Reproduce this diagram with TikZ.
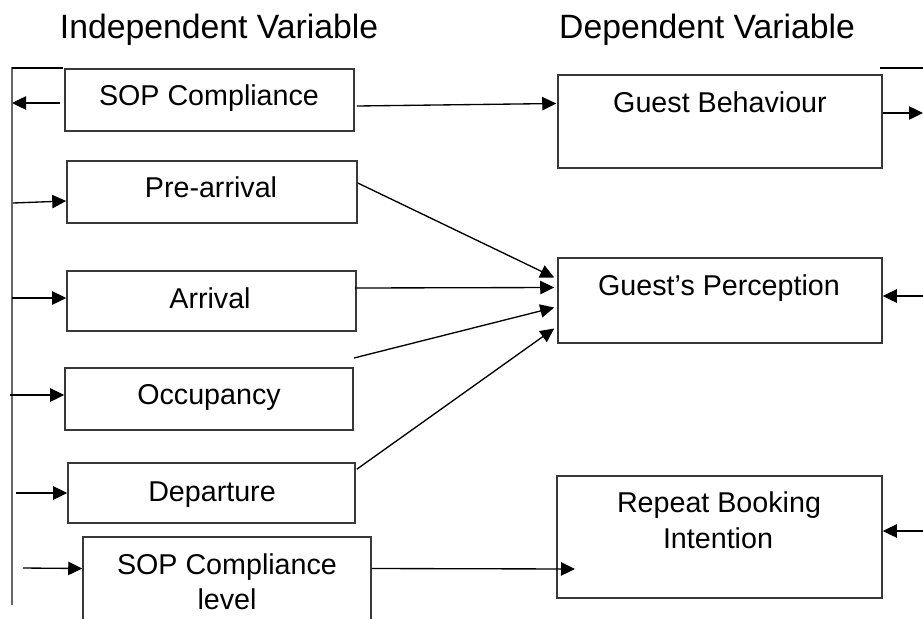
\documentclass[tikz,border=0pt]{standalone}
\usepackage{fontspec}
\setmainfont{Liberation Sans}
\usetikzlibrary{arrows.meta,fit,calc}

\tikzset{
  box/.style={draw=black!78, line width=1.15pt, inner sep=0pt},
  lbl/.style={inner sep=0pt, anchor=base, font=\fontsize{21.5}{36}\selectfont},
  head/.style={inner sep=0pt, anchor=base, font=\fontsize{25.3}{30}\selectfont},
  arr/.style={line width=1pt, -{Triangle[length=10.5pt,width=10pt]}},
  plain/.style={line width=1pt},
  spine/.style={draw=black!60, line width=1.3pt},
}

\begin{document}
\begin{tikzpicture}[x=0.75pt,y=-0.75pt]
\clip (0,0) rectangle (923,618);
\useasboundingbox (0,0) rectangle (923,618);

% headings
\node[head] (hind) at (219,38) {Independent Variable};
\node[head] (hdep) at (707,38) {Dependent Variable};

% independent variable boxes
\node[box, fit={(65,69) (354,131)}] (sop) {};
\node[lbl] (sopt) at (209,105) {SOP Compliance};
\node[box, fit={(67,161) (357,223)}] (pre) {};
\node[lbl] (pret) at (211,197) {Pre-arrival};
\node[box, fit={(67,271) (356,331)}] (arr) {};
\node[lbl] (arrt) at (210,308) {Arrival};
\node[box, fit={(65,368) (353,430)}] (occ) {};
\node[lbl] (occt) at (209,404) {Occupancy};
\node[box, fit={(68,463) (355,523)}] (dep) {};
\node[lbl] (dept) at (212,501) {Departure};
\node[box, fit={(83,537) (371,650)}] (lvl) {};
\node[lbl] (lvlt) at (227,574) {SOP Compliance};
\node[lbl] (lvlt2) at (227,609) {level};

% dependent variable boxes
\node[box, fit={(558,75) (882,168)}] (gb) {};
\node[lbl] (gbt) at (720,112) {Guest Behaviour};
\node[box, fit={(558,258) (882,343)}] (gp) {};
\node[lbl] (gpt) at (719,295) {Guest’s Perception};
\node[box, fit={(557,476) (882,598)}] (rb) {};
\node[lbl] (rbt) at (719,512) {Repeat Booking};
\node[lbl] (rbt2) at (718,548) {Intention};

% left spine and its branches
\coordinate (spT) at (12,67);
\coordinate (spB) at (12,605);
\coordinate (topL) at (63,68);
\draw[spine] (spT) -- (spB);
\draw[plain] (12,68) -- (topL);

\coordinate (s1) at (12,103);
\coordinate (s2) at (13,203);
\coordinate (s3) at (12,298);
\coordinate (s4) at (10,395);
\coordinate (s5) at (16,493);
\coordinate (s6) at (23,568);
\draw[arr] ($(sop.west)+(-4,3)$) -- (s1);
\draw[arr] (s2) -- ($(pre.west)+(0,9)$);
\draw[arr] (s3) -- ($(arr.west)+(0,-3)$);
\draw[arr] (s4) -- ($(occ.west)+(0,-4)$);
\draw[arr] (s5) -- (dep.west);
\draw[arr] (s6) -- ($(lvl.west)+(0,-25)$);

% links to the dependent variables
\draw[arr] ($(sop.east)+(2,6)$) -- ($(gb.west)+(-1,-18)$);
\draw[arr] ($(pre.east)+(0,-9)$) -- ($(gp.west)+(-3,-23)$);
\draw[arr] ($(arr.east)+(-2,-13)$) -- ($(gp.west)+(-3,-13)$);
\coordinate (occS) at (354,358);
\draw[arr] (occS) -- ($(gp.west)+(-3,7)$);
\draw[arr] ($(dep.north east)+(1,7)$) -- ($(gp.west)+(-3,28)$);
\coordinate (rbIn) at (575,569);
\draw[arr] ($(lvl.east)+(0,-25)$) -- (rbIn);

% right-hand branches
\coordinate (gbOut) at (923,113);
\coordinate (topR) at (880,68);
\coordinate (topRR) at (923,68);
\coordinate (gpIn) at (923,296);
\coordinate (rbR) at (923,531);
\draw[arr] (gb.east |- gbOut) -- (gbOut);
\draw[plain] (topR) -- (topRR);
\draw[arr] (gpIn) -- (gp.east |- gpIn);
\draw[arr] (rbR) -- (rb.east |- rbR);
\end{tikzpicture}
\end{document}
